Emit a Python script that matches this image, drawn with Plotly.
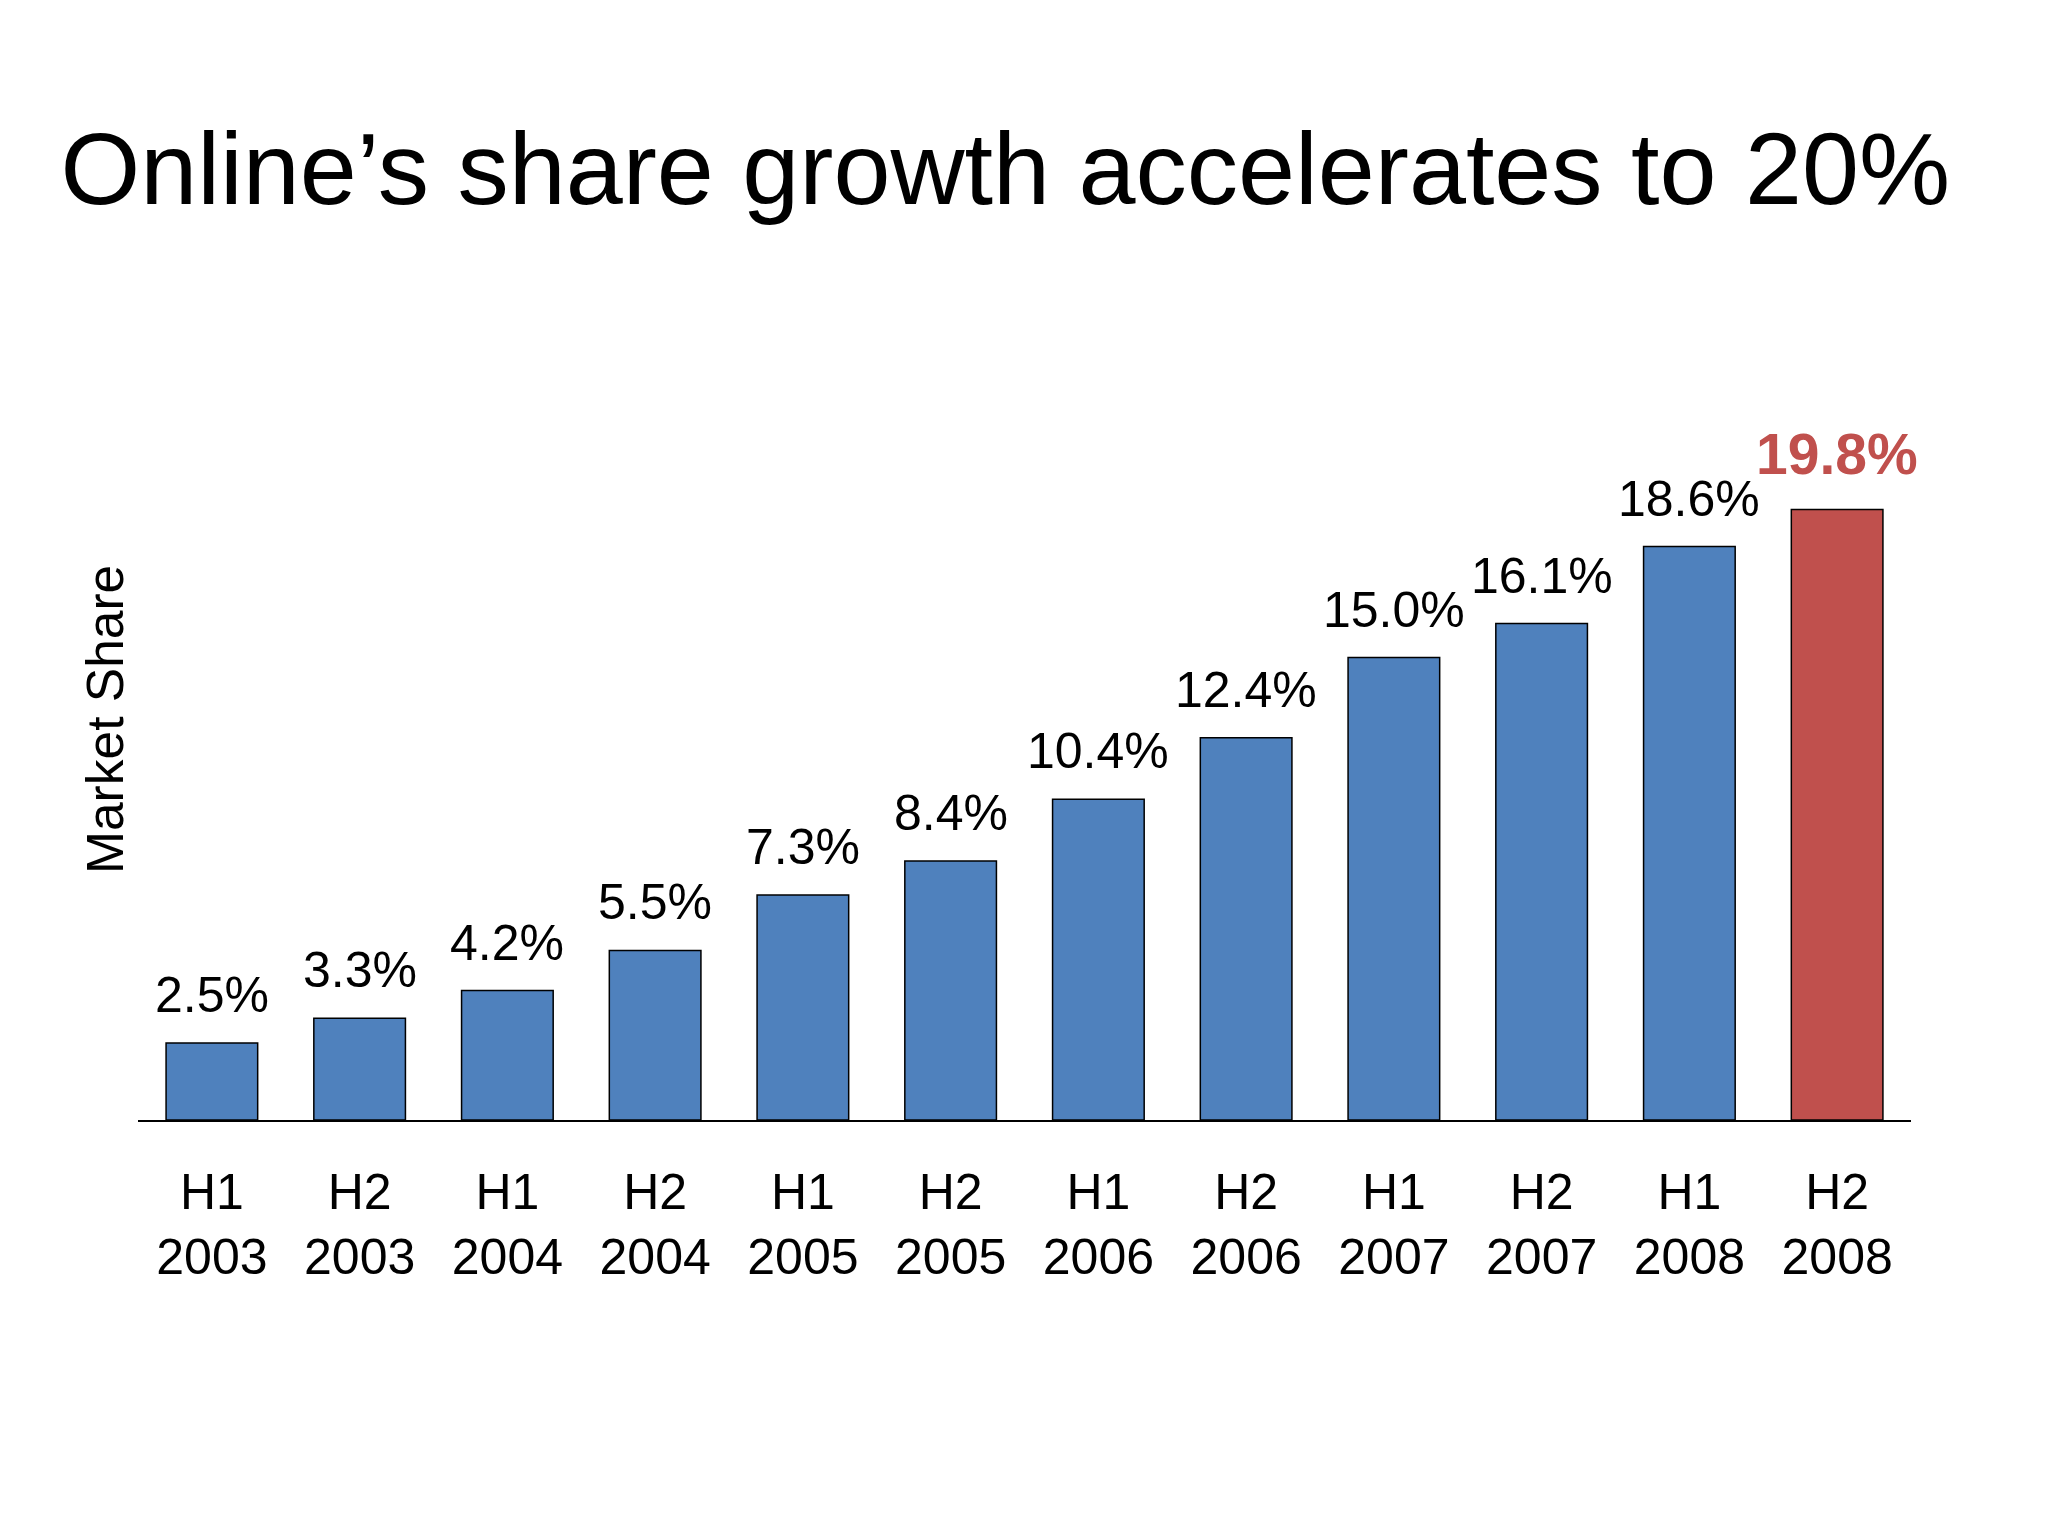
import plotly.graph_objects as go

# market share by half-year
periods = ["H1<br>2003", "H2<br>2003", "H1<br>2004", "H2<br>2004", "H1<br>2005", "H2<br>2005",
           "H1<br>2006", "H2<br>2006", "H1<br>2007", "H2<br>2007", "H1<br>2008", "H2<br>2008"]
share = [2.5, 3.3, 4.2, 5.5, 7.3, 8.4, 10.4, 12.4, 15.0, 16.1, 18.6, 19.8]
labels = ["2.5%", "3.3%", "4.2%", "5.5%", "7.3%", "8.4%", "10.4%", "12.4%", "15.0%", "16.1%", "18.6%", "19.8%"]

BLUE = "#4F81BD"
RED = "#C0504D"
FONT = "Liberation Sans, Arial, sans-serif"

colors = [BLUE] * (len(share) - 1) + [RED]

fig = go.Figure(go.Bar(
    x=periods, y=share,
    marker=dict(color=colors, line=dict(color="black", width=1.5)),
    width=0.62,
))

# value labels above bars (last one highlighted)
for i, (p, v, t) in enumerate(zip(periods, share, labels)):
    last = i == len(share) - 1
    fig.add_annotation(
        x=p, y=v, text=f"<b>{t}</b>" if last else t,
        showarrow=False, yanchor="bottom", yshift=22 if last else 18,
        font=dict(size=57 if last else 50, color=RED if last else "black", family=FONT),
    )

fig.add_annotation(
    text="Market Share", xref="paper", yref="paper", x=0, y=0.542,
    xanchor="right", yanchor="middle", xshift=-2, textangle=-90,
    showarrow=False, font=dict(size=51.5, color="black", family=FONT),
)

fig.update_layout(
    width=2048, height=1536,
    autosize=False,
    paper_bgcolor="white", plot_bgcolor="white",
    margin=dict(l=130, r=145, t=372, b=424),
    showlegend=False,
    font=dict(family=FONT, color="black"),
    title=dict(
        text="Online\u2019s share growth accelerates to 20%",
        x=0.487, xanchor="center", xref="container",
        y=0.896, yanchor="middle", yref="container",
        font=dict(size=102.5, color="black", family=FONT),
    ),
    xaxis=dict(
        showline=True, linecolor="black", linewidth=2,
        tickfont=dict(size=50, color="black", family=FONT),
        ticks="", ticklabelstandoff=27,
        range=[-0.5, 11.5], showgrid=False, zeroline=False,
    ),
    yaxis=dict(
        range=[0, 24], showticklabels=False, showgrid=False,
        zeroline=False, showline=False, ticks="",
    ),
)

fig.write_html("out.html")
